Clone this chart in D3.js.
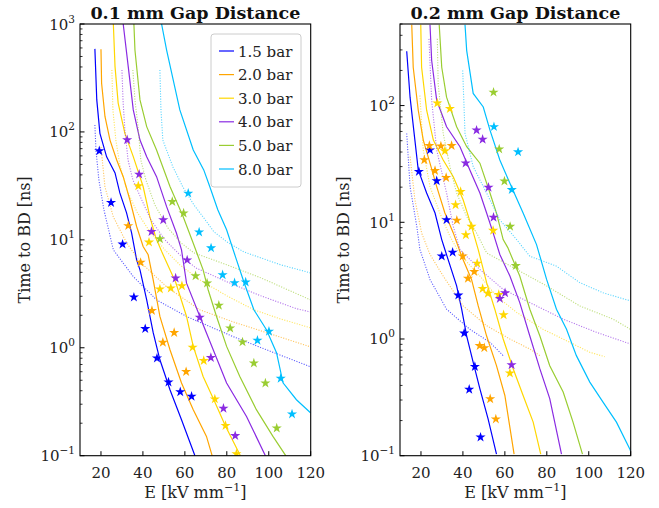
<!DOCTYPE html>
<html>
<head>
<meta charset="utf-8">
<script src="https://cdn.jsdelivr.net/npm/d3@7/dist/d3.min.js"></script>
<style>
    body { margin: 0; background: #fff; }
    text { font-family: 'DejaVu Serif', serif; fill: #222; }
</style>
</head>
<body>
<script>
// pressures and colours
const pressures = ['1.5 bar', '2.0 bar', '3.0 bar', '4.0 bar', '5.0 bar', '8.0 bar'];
const colors = ['#0000ff', '#ffa500', '#ffd700', '#8a2be2', '#9acd32', '#00bfff'];
const xTicks = [20, 40, 60, 80, 100, 120];

// 0.1 mm gap: model (solid), second model (dotted), measurements (stars); [E kV/mm, t ns]
const gap01Solid = [
    [[17.1,588],[18.0,198],[19.5,97],[22.7,58.7],[26.7,41.7],[29.0,27.2],[32.2,17.8],[34.6,11.6],[37.0,6.53],[38.6,5.27],[41.8,2.78],[44.9,1.38],[48.1,0.774],[52.9,0.408],[58.4,0.215],[64.8,0.1]],
    [[20.0,583],[20.3,282],[21.9,139],[24.3,84],[27.5,55],[30.6,38.5],[33.8,23.4],[37.0,13.3],[40.1,8.67],[42.5,7.27],[44.9,4.26],[48.1,1.95],[52.9,0.958],[58.4,0.471],[64.0,0.267],[70.3,0.151],[73.0,0.1]],
    [[25.9,1000],[26.7,403],[28.2,185],[31.4,97],[35.4,59],[40.1,31.2],[43.3,16.4],[46.2,10.4],[49.0,7.74],[55.7,4.0],[60.8,1.95],[64.0,1.03],[68.7,0.542],[73.8,0.33],[79.4,0.187],[86.5,0.1]],
    [[30.6,1000],[33.0,403],[35.4,160],[38.6,84],[41.8,59],[46.5,38.5],[51.3,20.3],[56.0,11.5],[58.4,8.07],[60.8,3.97],[70.3,1.37],[79.9,0.471],[89.4,0.231],[98.4,0.1]],
    [[35.7,1000],[36.2,574],[38.6,198],[41.8,112],[46.5,68],[52.9,31.2],[59.2,16.4],[64.0,9.31],[68.7,5.27],[71.1,3.45],[75.1,1.95],[79.9,1.03],[86.2,0.542],[94.1,0.267],[102.0,0.151],[108.1,0.1]],
    [[48.9,1000],[51.3,574],[57.6,160],[64.0,68],[69.0,44.5],[71.9,31],[75.7,19],[79.9,12.4],[84.3,6.81],[88.1,4.09],[92.9,2.25],[98.9,1.47],[103.7,0.9],[106.8,0.474],[113.2,0.33],[119.9,0.25]]
];
const gap01Dotted = [
    [[17.1,116],[17.6,68],[19.0,36],[21.4,19],[25.9,8.07],[35.4,4.57],[46.5,2.78],[60.8,1.95],[83.0,1.27],[98.9,0.958],[119.9,0.667]],
    [[20.0,72.6],[21.9,31],[25.9,16.3],[32.2,9.4],[38.6,6.26],[51.3,3.67],[67.1,2.25],[82.9,1.74],[99.0,1.38],[119.9,1.02]],
    [[25.2,375],[25.7,160],[27.1,84],[29.0,49.4],[32.4,29],[37.1,18.2],[43.3,11.9],[50.5,8.07],[57.6,5.87],[67.1,4.26],[80.0,3.03],[92.9,2.25],[105.2,1.86],[119.9,1.53]],
    [[30.0,375],[30.5,198],[31.4,104],[32.9,55],[35.2,36],[39.0,24.5],[43.8,15.3],[50.5,10],[57.6,7.27],[65.2,5.5],[80.0,4.09],[96.2,3.03],[113.3,2.3],[119.9,2.15]],
    [[35.2,375],[36.2,198],[37.6,116],[39.0,55],[41.4,36],[45.7,21.1],[51.9,12.9],[58.1,9.4],[64.3,7.58],[80.0,5.87],[96.2,4.45],[119.9,2.78]],
    [[48.1,375],[48.6,160],[49.5,84],[54.3,47.4],[59.0,31],[64.3,21.1],[69.0,16],[73.8,11.9],[80.0,9.6],[88.1,7.74],[96.2,6.81],[105.7,5.87],[119.9,4.94]]
];
const gap01Stars = [
    [[19.2,66.7],[24.8,22.1],[30.3,9.1],[35.7,2.94],[41.1,1.5],[46.7,0.80],[52.2,0.48],[57.8,0.39],[63.2,0.354]],
    [[33.0,13.5],[38.9,6.17],[44.3,2.21],[49.5,1.12],[54.9,1.38],[60.6,0.60]],
    [[37.8,31.6],[42.9,9.5],[48.1,3.5],[53.3,3.57],[58.6,3.75],[63.7,1.01],[69.0,0.76],[74.3,0.335],[79.4,0.19],[84.6,0.104]],
    [[32.5,84.3],[38.2,40.5],[44.1,11.9],[49.7,15.3],[55.6,4.42],[61.1,6.5],[67.1,1.91],[72.4,0.81],[78.4,0.274],[84.0,0.153]],
    [[48.1,10.2],[54.0,22.6],[59.4,17.7],[65.1,4.64],[70.6,3.97],[76.2,2.47],[81.6,1.52],[87.5,1.13],[92.9,0.72],[98.4,0.47],[103.8,0.18]],
    [[61.6,27.0],[66.8,11.8],[72.5,8.4],[78.0,4.74],[83.7,4.0],[89.0,4.06],[94.6,1.17],[100.1,1.42],[105.7,0.52],[111.1,0.243]]
];

// 0.2 mm gap
const gap02Solid = [
    [[13.2,292],[14.8,118],[17.1,50.6],[18.7,28.1],[22.7,17.8],[26.7,12],[29.9,7.11],[31.4,5.84],[37.0,2.85],[39.4,1.8],[41.8,1.06],[44.9,0.631],[48.1,0.374],[52.0,0.207],[56.0,0.103]],
    [[15.6,493],[16.3,213],[18.7,91.2],[21.1,50.6],[24.3,32.1],[27.5,20.2],[31.4,12],[35.4,8.11],[39.4,5.12],[44.1,3.24],[47.3,1.92],[51.3,1.06],[56.0,0.591],[60.0,0.328],[64.4,0.103]],
    [[19.9,493],[20.3,213],[22.7,91.2],[25.9,50.6],[30.6,34.2],[35.4,24.6],[40.1,15.6],[44.1,9.23],[47.3,5.84],[51.3,3.04],[55.2,1.8],[59.2,1.0],[64.0,0.554],[68.7,0.328],[73.5,0.194],[77.1,0.103]],
    [[24.3,493],[25.1,243],[27.5,111],[32.2,65.8],[38.6,44.4],[43.3,28.1],[48.1,17.8],[51.3,12],[54.4,8.11],[57.6,5.3],[62.4,3.46],[67.1,2.05],[71.9,1.06],[76.7,0.554],[81.4,0.308],[87.0,0.103]],
    [[28.7,493],[29.9,213],[32.2,118],[37.0,65.8],[41.8,44.4],[48.1,32.1],[52.9,17.8],[56.0,12],[59.2,7.11],[61.4,6.07],[67.1,3.46],[71.9,1.8],[76.7,1.06],[81.4,0.591],[87.8,0.351],[92.5,0.194],[97.0,0.103]],
    [[41.0,493],[41.8,296],[44.9,127],[49.7,97.3],[52.9,61.6],[57.6,34.2],[62.4,21.6],[68.7,12],[75.1,6.44],[79.9,3.24],[84.6,1.8],[89.4,1.21],[94.1,0.72],[100.5,0.427],[106.8,0.288],[113.2,0.194],[119.5,0.115],[119.9,0.11]]
];
const gap02Dotted = [
    [[13.2,57.7],[14.8,20.2],[18.0,9.23],[19.5,5.84],[24.3,3.24],[32.2,1.8],[43.3,1.21],[52.9,0.936],[59.2,0.72]],
    [[14.8,36.5],[17.1,15.6],[20.3,8.11],[24.3,5.3],[30.6,3.46],[40.1,1.92],[51.3,1.3],[62.4,1.0],[71.9,0.82],[76.7,0.72]],
    [[19.5,122],[21.1,41.6],[24.3,20.2],[29.0,12],[33.8,7.59],[38.6,5.3],[48.1,3.46],[56.0,2.33],[65.6,1.69],[78.2,1.21],[91.0,0.936],[100.5,0.769],[107.6,0.705]],
    [[23.8,373],[25.1,111],[27.5,41.6],[32.2,17.8],[35.4,9.23],[38.6,5.84],[48.1,3.94],[59.2,2.66],[71.9,2.05],[87.8,1.48],[103.7,1.14],[119.9,0.906]],
    [[27.8,373],[28.2,154],[30.6,57.7],[33.8,30],[37.0,17.8],[41.8,11.2],[46.5,8.11],[51.3,5.47],[65.6,3.94],[79.9,2.85],[95.7,1.92],[111.6,1.48],[119.9,1.21]],
    [[39.9,200],[41.0,57.7],[44.9,30],[51.3,17.8],[57.6,10.5],[65.6,7.11],[71.9,5.12],[84.6,4.21],[95.7,3.04],[106.8,2.49],[119.9,2.12]]
];
const gap02Stars = [
    [[19.0,27.2],[24.3,41.6],[27.5,22.6],[32.2,10.5],[29.9,5.12],[35.1,5.53],[37.8,2.37],[40.6,1.12],[45.7,0.58],[43.0,0.37],[48.4,0.144]],
    [[24.0,45.3],[29.5,45],[34.6,45.3],[21.6,34.2],[26.7,27.7],[32.0,24.1],[37.1,10.4],[39.9,5.12],[45.4,3.77],[42.4,3.3],[48.0,0.875],[50.2,0.84],[53.0,0.307],[55.7,0.206]],
    [[27.8,105],[33.8,94],[31.4,40.8],[38.9,18.3],[36.5,14.1],[44.1,9.2],[41.4,7.8],[54.4,8.5],[46.8,4.44],[49.4,2.7],[51.9,2.46],[57.1,2.4],[59.4,1.61],[62.4,0.51]],
    [[46.5,61.5],[49.4,51.3],[41.3,32.1],[52.2,19.9],[54.6,11.0],[57.6,2.22],[60.1,2.48],[63.2,0.60]],
    [[54.6,130],[57.3,42.4],[59.8,22.5],[62.5,9.2],[65.2,4.24]],
    [[54.8,65.8],[66.3,40],[63.3,19.0]]
];

const svg = d3.select('body')
    .append('svg')
    .attr('width', 659)
    .attr('height', 508);

const panels = [
    { id: 'p1', title: '0.1 mm Gap Distance', left: 80, right: 310.7, yMax: 1000, exps: [-1, 0, 1, 2, 3],
      solid: gap01Solid, dotted: gap01Dotted, stars: gap01Stars, legend: true, ylabX: 30 },
    { id: 'p2', title: '0.2 mm Gap Distance', left: 400, right: 630.7, yMax: 500, exps: [-1, 0, 1, 2],
      solid: gap02Solid, dotted: gap02Dotted, stars: gap02Stars, legend: false, ylabX: 349 }
];
const plotTop = 24, plotBottom = 455.7;

panels.forEach(p => {
    const x = d3.scaleLinear().domain([10, 120]).range([p.left, p.right]);
    const y = d3.scaleLog().domain([0.1, p.yMax]).range([plotBottom, plotTop]);
    const g = svg.append('g');

    g.append('clipPath').attr('id', 'clip-' + p.id)
        .append('rect')
        .attr('x', p.left).attr('y', plotTop)
        .attr('width', p.right - p.left).attr('height', plotBottom - plotTop);

    const plot = g.append('g').attr('clip-path', `url(#clip-${p.id})`);
    const line = d3.line().x(d => x(d[0])).y(d => y(d[1]));

    pressures.forEach((name, i) => {
        plot.append('path')
            .attr('d', line(p.solid[i]))
            .attr('fill', 'none')
            .attr('stroke', colors[i])
            .attr('stroke-width', 1.2);
        plot.append('path')
            .attr('d', line(p.dotted[i]))
            .attr('fill', 'none')
            .attr('stroke', colors[i])
            .attr('stroke-opacity', 0.65)
            .attr('stroke-width', 1.1)
            .attr('stroke-dasharray', '1.1,1.5');
    });
    pressures.forEach((name, i) => {
        plot.selectAll(null)
            .data(p.stars[i])
            .enter()
            .append('path')
            .attr('d', d3.symbol().type(d3.symbolStar).size(32))
            .attr('transform', d => `translate(${x(d[0])},${y(d[1])})`)
            .attr('fill', colors[i]);
    });

    // frame
    g.append('rect')
        .attr('x', p.left).attr('y', plotTop)
        .attr('width', p.right - p.left).attr('height', plotBottom - plotTop)
        .attr('fill', 'none').attr('stroke', '#000').attr('stroke-width', 1.1);

    // x ticks (inside)
    xTicks.forEach(t => {
        g.append('line')
            .attr('x1', x(t)).attr('x2', x(t))
            .attr('y1', plotBottom).attr('y2', plotBottom - 4.5)
            .attr('stroke', '#000').attr('stroke-width', 1);
        g.append('text')
            .attr('x', x(t)).attr('y', plotBottom + 22)
            .attr('text-anchor', 'middle')
            .style('font-size', '15px')
            .text(t);
    });

    // y ticks (log, inside)
    p.exps.forEach(e => {
        const v = Math.pow(10, e);
        g.append('line')
            .attr('x1', p.left).attr('x2', p.left + 4.5)
            .attr('y1', y(v)).attr('y2', y(v))
            .attr('stroke', '#000').attr('stroke-width', 1);
        const lab = g.append('text')
            .attr('x', p.left - 5).attr('y', y(v) + 5.5)
            .attr('text-anchor', 'end')
            .style('font-size', '15px');
        lab.append('tspan').text('10');
        lab.append('tspan').attr('dy', -7).style('font-size', '10.5px')
            .text(e < 0 ? '\u2212' + (-e) : e);
        for (let k = 2; k <= 9; k++) {
            const m = k * v;
            if (m > p.yMax) break;
            g.append('line')
                .attr('x1', p.left).attr('x2', p.left + 2.5)
                .attr('y1', y(m)).attr('y2', y(m))
                .attr('stroke', '#000').attr('stroke-width', 0.8);
        }
    });

    // title
    g.append('text')
        .attr('x', (p.left + p.right) / 2).attr('y', 19)
        .attr('text-anchor', 'middle')
        .style('font-size', '17.5px')
        .style('font-weight', 'bold')
        .style('fill', '#111')
        .text(p.title);

    // axis labels
    const xl = g.append('text')
        .attr('x', (p.left + p.right) / 2).attr('y', 498)
        .attr('text-anchor', 'middle')
        .style('font-size', '16px');
    xl.append('tspan').text('E [kV mm');
    xl.append('tspan').attr('dy', -7).style('font-size', '11px').text('\u22121');
    xl.append('tspan').attr('dy', 7).text(']');

    g.append('text')
        .attr('transform', `translate(${p.ylabX},${(plotTop + plotBottom) / 2}) rotate(-90)`)
        .attr('text-anchor', 'middle')
        .style('font-size', '16px')
        .text('Time to BD [ns]');

    // legend
    if (p.legend) {
        const lg = g.append('g');
        lg.append('rect')
            .attr('x', 211).attr('y', 34).attr('width', 90).attr('height', 153)
            .attr('rx', 3)
            .attr('fill', '#fff').attr('fill-opacity', 0.8)
            .attr('stroke', '#ccc').attr('stroke-width', 1);
        pressures.forEach((name, i) => {
            const ry = 51 + i * 23.6;
            lg.append('line')
                .attr('x1', 219).attr('x2', 234)
                .attr('y1', ry).attr('y2', ry)
                .attr('stroke', colors[i]).attr('stroke-width', 1.2);
            lg.append('text')
                .attr('x', 238).attr('y', ry + 5.5)
                .style('font-size', '15px')
                .text(name);
        });
    }
});
</script>
</body>
</html>
